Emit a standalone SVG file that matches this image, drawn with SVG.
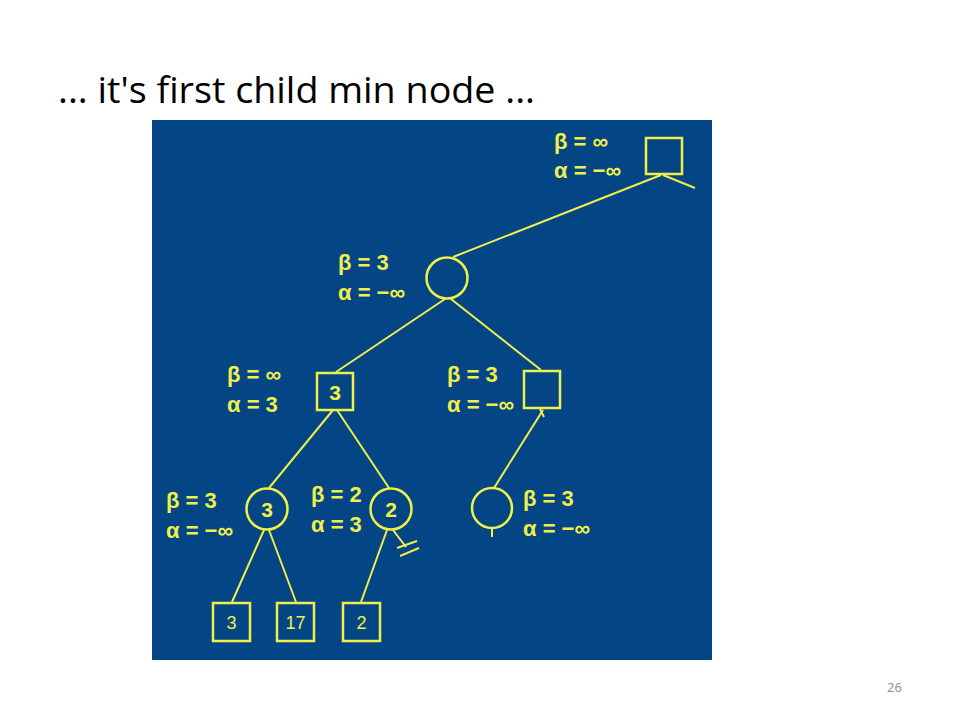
<svg xmlns="http://www.w3.org/2000/svg" width="960" height="720" viewBox="0 0 960 720">
<style>
.lbl{font-family:"Liberation Sans","DejaVu Sans",sans-serif;font-weight:bold;font-size:22px;fill:#f0f04a}
.num{font-family:"Liberation Sans","DejaVu Sans",sans-serif;font-size:18px;fill:#f0f04a;text-anchor:middle}
.nb{font-weight:bold;font-size:21px}
.shape{fill:none;stroke:#f0f04a;stroke-width:2.5}
.edge{stroke:#f0f04a;stroke-width:2;fill:none}
</style>
<rect width="960" height="720" fill="#ffffff"/>
<text x="58" y="103" font-family="Open Sans, Liberation Sans, sans-serif" font-size="36" textLength="477" lengthAdjust="spacingAndGlyphs" fill="#000">... it's first child min node ...</text>
<rect x="152" y="120" width="560" height="540" fill="#034585"/>
<g id="connectors">
<line class="edge" x1="661" y1="175" x2="453" y2="257"/>
<line class="edge" x1="663" y1="175" x2="695" y2="188"/>
<line class="edge" x1="445" y1="299" x2="336" y2="372"/>
<line class="edge" x1="451" y1="299" x2="541" y2="370"/>
<line class="edge" x1="333" y1="410" x2="269" y2="488"/>
<line class="edge" x1="337" y1="410" x2="389" y2="488"/>
<line class="edge" x1="540" y1="409" x2="544" y2="417"/>
<line class="edge" x1="543" y1="410" x2="494" y2="488"/>
<line class="edge" x1="492" y1="528" x2="492" y2="537"/>
<line class="edge" x1="264" y1="530" x2="232" y2="602"/>
<line class="edge" x1="269" y1="530" x2="296" y2="602"/>
<line class="edge" x1="387" y1="530" x2="361" y2="602"/>
<line class="edge" x1="393" y1="530" x2="406" y2="547"/>
<line class="edge" x1="397" y1="548" x2="417" y2="541"/>
<line class="edge" x1="400" y1="556" x2="419" y2="548"/>
</g>
<g id="root">
<rect class="shape" x="646" y="138" width="36" height="36"/>
<text class="lbl" x="554" y="149">β = ∞</text>
<text class="lbl" x="554" y="178">α = −∞</text>
</g>
<g id="min1">
<circle class="shape" cx="447" cy="278" r="20.5"/>
<text class="lbl" x="338" y="270">β = 3</text>
<text class="lbl" x="338" y="300">α = −∞</text>
</g>
<g id="max3">
<rect class="shape" x="317" y="373" width="36" height="37"/>
<text class="num nb" x="335" y="400">3</text>
<text class="lbl" x="227" y="382">β = ∞</text>
<text class="lbl" x="227" y="412">α = 3</text>
</g>
<g id="maxR">
<rect class="shape" x="524" y="371" width="36" height="37"/>
<text class="lbl" x="447" y="382">β = 3</text>
<text class="lbl" x="447" y="412">α = −∞</text>
</g>
<g id="min3">
<circle class="shape" cx="267" cy="509" r="20.5"/>
<text class="num nb" x="267" y="517">3</text>
<text class="lbl" x="166" y="508">β = 3</text>
<text class="lbl" x="166" y="538">α = −∞</text>
</g>
<g id="min2">
<circle class="shape" cx="391" cy="509" r="20.5"/>
<text class="num nb" x="391" y="517">2</text>
<text class="lbl" x="311" y="502">β = 2</text>
<text class="lbl" x="311" y="532">α = 3</text>
</g>
<g id="minR">
<circle class="shape" cx="492" cy="508" r="20"/>
<text class="lbl" x="523" y="506">β = 3</text>
<text class="lbl" x="523" y="536">α = −∞</text>
</g>
<g id="leaf3">
<rect class="shape" x="213" y="603" width="37" height="38"/>
<text class="num" x="231.5" y="629">3</text>
</g>
<g id="leaf17">
<rect class="shape" x="277" y="603" width="37" height="38"/>
<text class="num" x="295.5" y="629">17</text>
</g>
<g id="leaf2">
<rect class="shape" x="343" y="603" width="37" height="38"/>
<text class="num" x="361.5" y="629">2</text>
</g>
<text x="887" y="692" font-family="Open Sans, Liberation Sans, sans-serif" font-size="13" fill="#888">26</text>
</svg>
